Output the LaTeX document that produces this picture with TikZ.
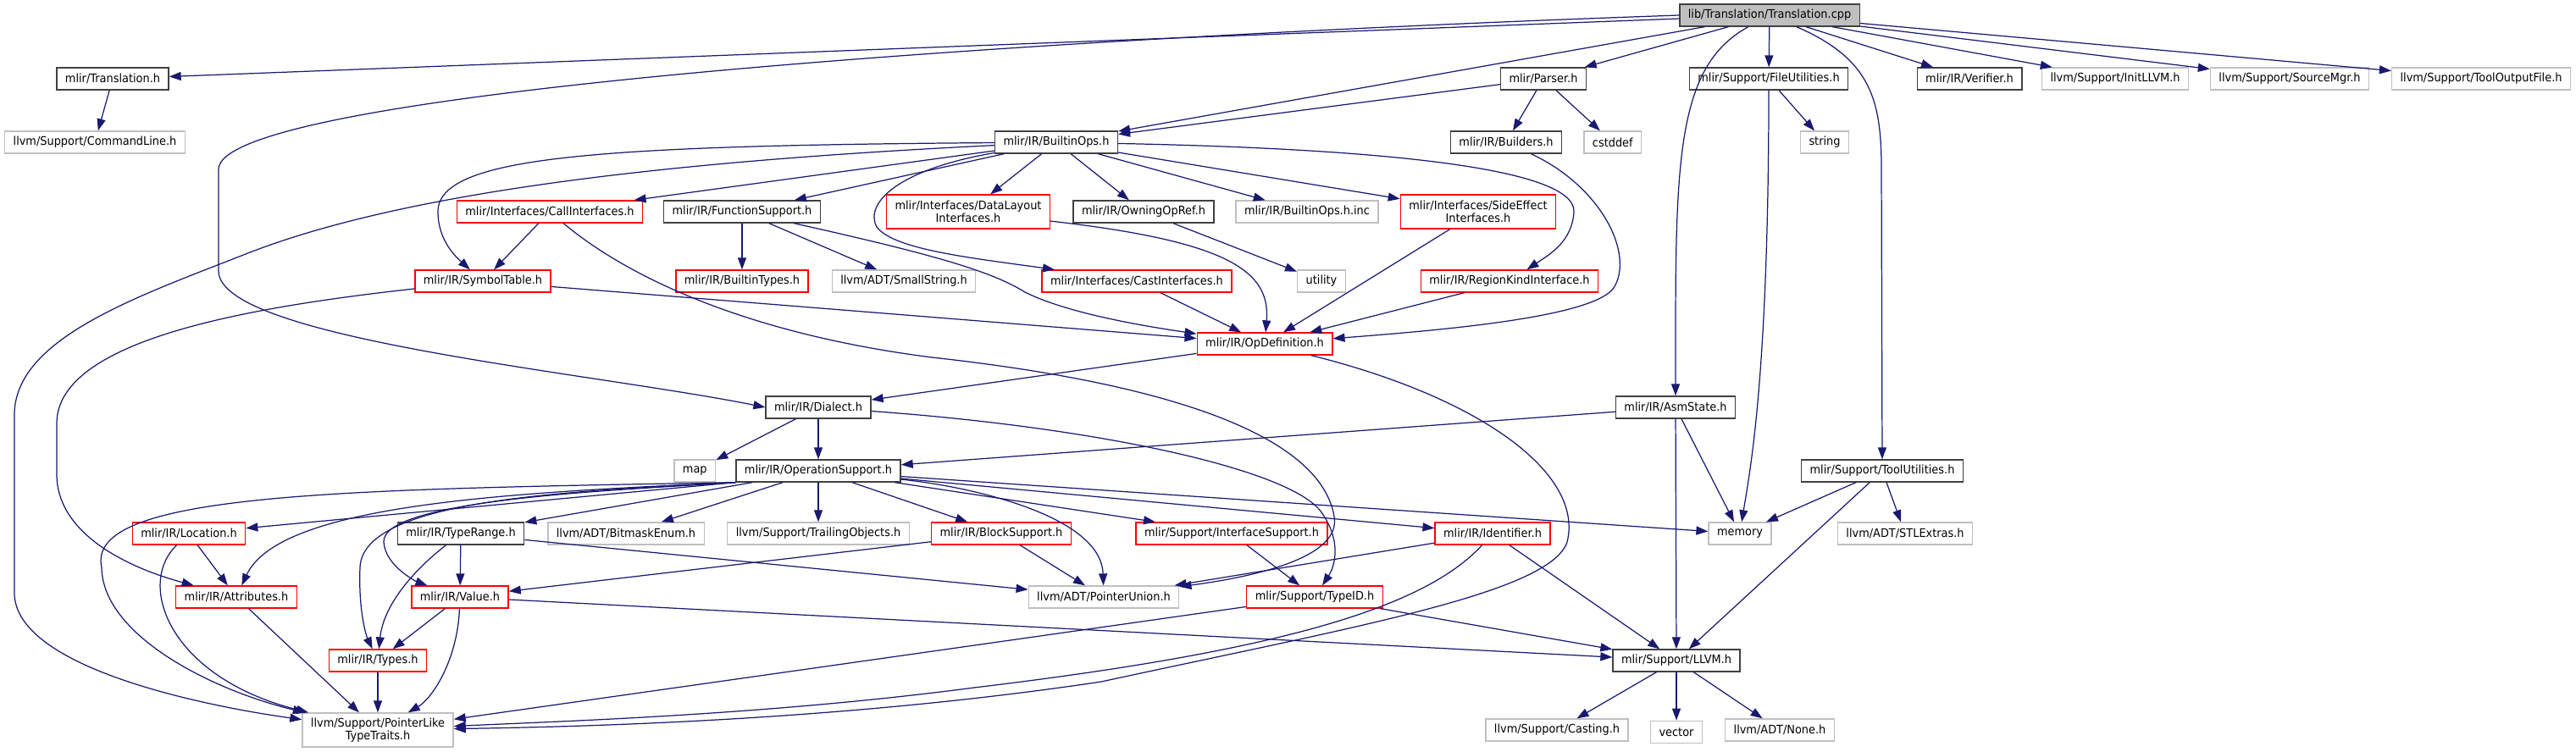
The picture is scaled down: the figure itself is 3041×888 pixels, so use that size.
\documentclass[tikz,border=0pt]{standalone}
\usepackage{fontspec}
\setmainfont{DejaVu Sans}[FakeStretch=0.93]
\usetikzlibrary{positioning, arrows.meta}
\definecolor{navy}{RGB}{25,25,112}

\begin{document}
\begin{tikzpicture}[x=0.02cm, y=-0.02cm, >={Triangle[length=0.28cm, width=0.2cm]}]
        \tikzstyle{file}=[rectangle, draw, fill=white, line width=0.75pt, minimum height=0.52cm, inner xsep=0.2cm, inner ysep=0pt, font=\fontsize{7.9}{8.6}\selectfont, align=center]
        \tikzstyle{doc file}=[file, draw=black!75]
        \tikzstyle{ext file}=[file, draw=black!25]
        \tikzstyle{cut file}=[file, draw=red]
        \tikzstyle{main file}=[file, draw=black!75, fill=black!25]
        \tikzstyle{incl}=[->, draw=navy, line width=0.7pt]

        \useasboundingbox (0,0) rectangle (3041,888);

        % Source file
        \node[main file] (cpp) at (2089,18) {lib/Translation/Translation.cpp};

        % Direct includes
        \node[doc file] (trans) at (133,93) {mlir/Translation.h};
        \node[doc file] (parser) at (1822,93) {mlir/Parser.h};
        \node[doc file] (fileutil) at (2088,93) {mlir/Support/FileUtilities.h};
        \node[doc file] (verifier) at (2325,93) {mlir/IR/Verifier.h};
        \node[ext file] (initllvm) at (2497,93) {llvm/Support/InitLLVM.h};
        \node[ext file] (srcmgr) at (2703,93) {llvm/Support/SourceMgr.h};
        \node[ext file] (toolout) at (2929,93) {llvm/Support/ToolOutputFile.h};

        % Second level
        \node[ext file] (cmdline) at (112,168) {llvm/Support/CommandLine.h};
        \node[doc file] (builtinops) at (1247,168) {mlir/IR/BuiltinOps.h};
        \node[doc file] (builders) at (1778,168) {mlir/IR/Builders.h};
        \node[ext file, right=0.5cm of builders] (cstddef) {cstddef};
        \node[ext file] (string) at (2154,168) {string};

        % Interfaces
        \node[cut file] (callif) at (649,250) {mlir/Interfaces/CallInterfaces.h};
        \node[doc file] (funcsup) at (876,250) {mlir/IR/FunctionSupport.h};
        \node[cut file, minimum height=0.8cm] (dlif) at (1143,250) {mlir/Interfaces/DataLayout\\Interfaces.h};
        \node[doc file] (owning) at (1350,250) {mlir/IR/OwningOpRef.h};
        \node[ext file] (boinc) at (1543,250) {mlir/IR/BuiltinOps.h.inc};
        \node[cut file, minimum height=0.8cm] (seif) at (1745,250) {mlir/Interfaces/SideEffect\\Interfaces.h};

        \node[cut file] (symtab) at (570,332) {mlir/IR/SymbolTable.h};
        \node[cut file] (btypes) at (876,332) {mlir/IR/BuiltinTypes.h};
        \node[ext file] (smallstr) at (1067,332) {llvm/ADT/SmallString.h};
        \node[cut file] (castif) at (1342,332) {mlir/Interfaces/CastInterfaces.h};
        \node[ext file] (utility) at (1560,332) {utility};
        \node[cut file] (regkind) at (1782,332) {mlir/IR/RegionKindInterface.h};

        \node[cut file] (opdef) at (1493,406) {mlir/IR/OpDefinition.h};

        % Dialect and state
        \node[doc file] (dialect) at (966,481) {mlir/IR/Dialect.h};
        \node[doc file] (asmstate) at (1978,481) {mlir/IR/AsmState.h};

        \node[doc file] (opsup) at (966,556) {mlir/IR/OperationSupport.h};
        \node[ext file, left=0.46cm of opsup] (map) {map};
        \node[doc file] (toolutil) at (2222,556) {mlir/Support/ToolUtilities.h};

        % Operation support includes
        \node[cut file] (loc) at (223,630) {mlir/IR/Location.h};
        \node[doc file] (typerange) at (544,630) {mlir/IR/TypeRange.h};
        \node[ext file] (bitmask) at (739,630) {llvm/ADT/BitmaskEnum.h};
        \node[ext file] (trailing) at (966,630) {llvm/Support/TrailingObjects.h};
        \node[cut file] (blocksup) at (1182,630) {mlir/IR/BlockSupport.h};
        \node[cut file] (ifsup) at (1454,630) {mlir/Support/InterfaceSupport.h};
        \node[cut file] (ident) at (1762,630) {mlir/IR/Identifier.h};
        \node[ext file] (memory) at (2054,630) {memory};
        \node[ext file] (stlext) at (2249,630) {llvm/ADT/STLExtras.h};

        \node[cut file] (attr) at (279,705) {mlir/IR/Attributes.h};
        \node[cut file] (value) at (543,705) {mlir/IR/Value.h};
        \node[ext file] (ptrunion) at (1303,705) {llvm/ADT/PointerUnion.h};
        \node[cut file] (typeid) at (1552,705) {mlir/Support/TypeID.h};

        \node[cut file] (types) at (446,780) {mlir/IR/Types.h};
        \node[doc file] (llvm) at (1979,780) {mlir/Support/LLVM.h};

        % Leaves
        \node[ext file, minimum height=0.8cm] (ptrlike) at (446,862) {llvm/Support/PointerLike\\TypeTraits.h};
        \node[ext file] (casting) at (1838,862) {llvm/Support/Casting.h};
        \node[ext file, below=1.14cm of llvm] (vector) {vector};
        \node[ext file] (none) at (2101,862) {llvm/ADT/None.h};

        % Connect nodes
        \foreach \dest in {trans, builtinops, parser, fileutil, verifier, initllvm, srcmgr, toolout}
            \path (cpp) edge[incl] (\dest);
        \draw[incl] (cpp.west) .. controls (1200,45) and (258,110) .. (258,200) -- (258,320)
            .. controls (258,400) and (700,440) .. (dialect.west);
        \draw[incl] (cpp) .. controls (1975,80) and (1978,200) .. (asmstate);
        \draw[incl] (cpp) .. controls (2210,70) and (2221,120) .. (2221,200) -- (toolutil);

        \path (trans) edge[incl] (cmdline);

        \foreach \dest in {builtinops, builders, cstddef}
            \path (parser) edge[incl] (\dest);

        \path (fileutil) edge[incl] (string);
        \draw[incl] (fileutil) .. controls (2088,450) and (2065,560) .. (memory);

        \draw[incl] (builders) .. controls (1890,220) and (1930,300) .. (1905,340)
            .. controls (1880,375) and (1700,390) .. (opdef);

        \foreach \dest in {callif, funcsup, dlif, owning, boinc, seif}
            \path (builtinops) edge[incl] (\dest);
        \draw[incl] (builtinops) .. controls (700,172) and (517,185) .. (517,250)
            .. controls (517,285) and (540,305) .. (symtab);
        \draw[incl] (builtinops) .. controls (800,190) and (480,225) .. (290,300)
            .. controls (160,351) and (17,400) .. (17,490) -- (17,700)
            .. controls (17,790) and (250,835) .. (ptrlike);
        \draw[incl] (builtinops) .. controls (1060,200) and (1020,240) .. (1035,268)
            .. controls (1055,295) and (1150,305) .. (castif);
        \draw[incl] (builtinops) .. controls (1600,175) and (1860,195) .. (1858,250)
            .. controls (1856,285) and (1830,300) .. (regkind);

        \path (callif) edge[incl] (symtab);
        \draw[incl] (callif) .. controls (720,310) and (850,390) .. (1100,422)
            .. controls (1400,455) and (1560,520) .. (1575,610)
            .. controls (1585,665) and (1450,685) .. (ptrunion);

        \foreach \dest in {btypes, smallstr}
            \path (funcsup) edge[incl] (\dest);
        \draw[incl] (funcsup) .. controls (1100,300) and (1170,320) .. (1210,345)
            .. controls (1260,370) and (1350,385) .. (opdef);
        \draw[incl] (dlif) .. controls (1450,285) and (1500,320) .. (opdef);
        \path (owning) edge[incl] (utility);

        \foreach \source in {seif, regkind, castif, symtab}
            \path (\source) edge[incl] (opdef);
        \draw[incl] (symtab) .. controls (300,362) and (67,400) .. (67,500) -- (67,560)
            .. controls (67,630) and (150,670) .. (attr);

        \path (opdef) edge[incl] (dialect);
        \draw[incl] (opdef) .. controls (1750,470) and (1870,560) .. (1850,640)
            .. controls (1830,700) and (1600,740) .. (1300,805)
            .. controls (1000,850) and (700,858) .. (ptrlike);

        \foreach \dest in {map, opsup}
            \path (dialect) edge[incl] (\dest);
        \draw[incl] (dialect) .. controls (1300,505) and (1525,555) .. (1560,605)
            .. controls (1585,640) and (1575,670) .. (typeid);

        \foreach \dest in {opsup, memory, llvm}
            \path (asmstate) edge[incl] (\dest);
        \foreach \dest in {memory, llvm, stlext}
            \path (toolutil) edge[incl] (\dest);

        \foreach \dest in {typerange, bitmask, trailing, blocksup, ifsup, ident, memory}
            \path (opsup) edge[incl] (\dest);
        \path (opsup.south west) edge[incl] (loc);
        \draw[incl] (opsup.south west) .. controls (600,582) and (330,595) .. (attr);
        \draw[incl] (opsup.south west) .. controls (400,578) and (100,582) .. (120,670)
            .. controls (121,750) and (250,815) .. (ptrlike);
        \draw[incl] (opsup.south west) .. controls (700,580) and (428,585) .. (425,670)
            .. controls (423,720) and (432,750) .. (types);
        \draw[incl] (opsup.south west) .. controls (750,578) and (450,588) .. (453,640)
            .. controls (455,670) and (495,688) .. (value);
        \draw[incl] (opsup) .. controls (1150,575) and (1300,610) .. (ptrunion);

        \path (loc) edge[incl] (attr);
        \draw[incl] (loc) .. controls (160,690) and (200,800) .. (ptrlike);

        \foreach \dest in {value, ptrunion}
            \path (typerange) edge[incl] (\dest);
        \draw[incl] (typerange) .. controls (480,680) and (452,720) .. (types);

        \foreach \dest in {value, ptrunion}
            \path (blocksup) edge[incl] (\dest);
        \path (ifsup) edge[incl] (typeid);

        \foreach \dest in {ptrunion, llvm}
            \path (ident) edge[incl] (\dest);
        \draw[incl] (ident) .. controls (1680,720) and (1500,770) .. (1150,812)
            .. controls (900,845) and (650,852) .. (ptrlike);

        \foreach \dest in {types, llvm}
            \path (value) edge[incl] (\dest);
        \draw[incl] (value) .. controls (540,780) and (510,825) .. (ptrlike);

        \foreach \source in {attr, types, typeid}
            \path (\source) edge[incl] (ptrlike);
        \path (typeid) edge[incl] (llvm);

        \foreach \dest in {casting, vector, none}
            \path (llvm) edge[incl] (\dest);

    \end{tikzpicture}
\end{document}
